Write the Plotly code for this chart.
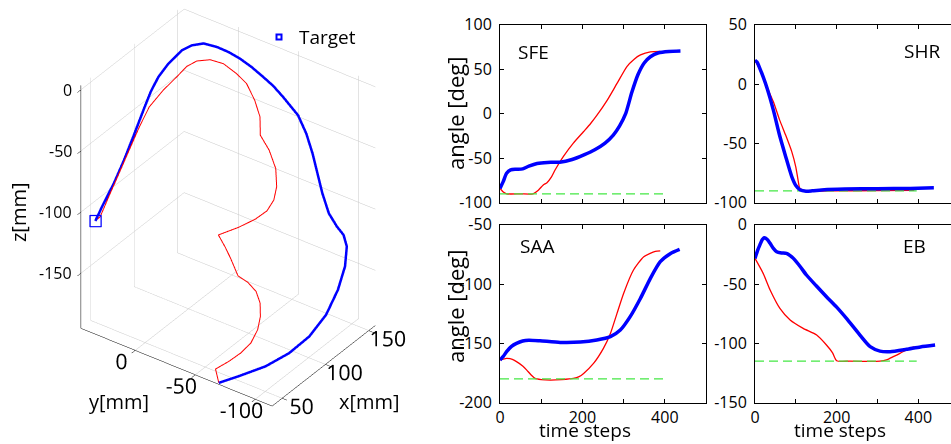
import plotly.graph_objects as go

# ---------------- 3D end-effector trajectories (mm) ----------------
blue_x = [39.6, 49.6, 63.2, 76.6, 89.7, 103.0, 115.4, 125.4, 132.3, 134.5, 134.5, 135.4,
          139.0, 143.2, 147.4, 151.1, 153.5, 153.2, 152.7, 151.5, 150.0, 148.0, 145.5, 142.5,
          138.3, 133.1, 127.5, 118.2, 110.1, 102.5, 95.4, 83.2, 70.9, 59.7, 49.4, 40.8]
blue_y = [-68.8, -78.2, -90.7, -100.7, -108.0, -112.4, -113.3, -112.0, -108.5, -104.2, -98.7, -91.3,
          -83.3, -76.2, -69.1, -61.2, -52.6, -40.3, -32.5, -25.1, -16.5, -8.3, -0.5, 7.0,
          15.1, 21.1, 25.5, 29.9, 32.4, 33.3, 33.2, 32.9, 32.7, 33.1, 34.2, 34.9]
blue_z = [-194.7, -191.0, -185.5, -178.1, -168.8, -156.7, -142.8, -129.7, -118.6, -112.1, -107.5, -100.1,
          -88.9, -77.8, -66.7, -55.6, -45.4, -35.1, -29.0, -24.0, -18.5, -13.8, -10.1, -7.3,
          -5.3, -6.4, -9.2, -16.6, -24.0, -32.3, -40.7, -55.6, -70.4, -83.4, -94.5, -104.4]

red_x = [39.6, 42.6, 50.2, 57.4, 64.5, 71.4, 76.5, 80.5, 82.5, 82.1, 80.2, 82.7, 84.0, 85.1,
         95.4, 104.5, 111.7, 117.8, 123.0, 128.2, 131.3, 132.4, 138.0, 141.0, 142.9, 142.0,
         139.9, 135.9, 130.2, 124.5, 118.5, 107.9, 97.2, 87.2, 75.9, 64.8, 53.5, 44.1, 40.8]
red_y = [-68.8, -63.9, -69.5, -74.1, -77.5, -78.2, -76.8, -73.7, -68.9, -62.5, -55.5, -47.5, -41.9, -35.6,
         -45.0, -52.3, -56.9, -58.2, -56.8, -52.3, -44.6, -36.4, -32.1, -25.5, -17.4, -9.8,
         -0.3, 7.9, 14.9, 19.2, 21.9, 26.8, 30.7, 31.7, 32.1, 32.5, 32.9, 33.2, 34.9]
red_z = [-194.7, -187.0, -182.7, -178.1, -172.5, -165.1, -157.7, -150.2, -143.7, -138.7, -135.0, -125.2, -118.7, -112.2,
         -107.9, -103.4, -98.7, -92.7, -85.2, -75.1, -64.9, -56.5, -46.3, -37.0, -27.7, -22.2,
         -16.6, -14.4, -15.1, -18.1, -23.1, -31.4, -40.7, -51.9, -64.9, -77.8, -90.8, -102.0, -104.4]

target_x = [40.8]
target_y = [34.9]
target_z = [-104.4]

x3_range = [38.5, 157.7]
y3_range = [-114.0, 45.25]
z3_range = [-195.0, 3.5]
x3_ticks = [50, 100, 150]
y3_ticks = [-100, -50, 0]
z3_ticks = [-150, -100, -50, 0]

# ---------------- joint angle time series (deg) ----------------
sfe_blue_t = [0, 8, 16, 26, 40, 55, 70, 90, 115, 145, 175, 205, 230, 255, 275, 290, 305, 320, 335, 350, 365, 385, 410, 438]
sfe_blue = [-84, -76, -67, -63, -62.5, -62, -59, -56, -54.7, -54.5, -51.5, -46, -40.5, -33, -24, -14, 0, 24, 44, 57, 64, 68.5, 70, 70.5]
sfe_red_t = [0, 8, 16, 50, 80, 93, 105, 114, 125, 134, 154, 178, 203, 220, 235, 260, 284, 308, 325, 341, 365, 389]
sfe_red = [-84, -88, -90, -90, -90, -86, -80, -77.5, -71, -63, -48, -33, -20, -11, -2, 15, 34, 53, 61, 66, 69.5, 70]

shr_blue_t = [0, 5, 12, 20, 30, 45, 60, 75, 90, 100, 110, 125, 140, 170, 220, 300, 380, 438]
shr_blue = [20, 18.5, 13, 6, -4, -22, -43, -61, -78, -85.5, -89, -90.3, -90, -89, -88.5, -88.2, -88, -87.5]
shr_red_t = [0, 15, 30, 45, 60, 75, 90, 100, 106, 110, 125, 200, 300, 390]
shr_red = [20, 10, -3, -15, -30, -43, -57, -70, -82, -88, -90, -90, -89.8, -89.5]

saa_blue_t = [0, 8, 16, 28, 40, 55, 70, 97, 146, 195, 235, 268, 292, 316, 341, 365, 389, 414, 436]
saa_blue = [-164, -161, -157, -152.5, -150, -148, -147.3, -147.8, -149.2, -148.9, -147.2, -144.4, -138.8, -127.5, -112, -95.2, -81.2, -74.2, -70.8]
saa_red_t = [0, 16, 30, 40, 55, 65, 75, 85, 100, 122, 150, 178, 192, 203, 227, 251, 268, 284, 300, 324, 349, 377, 389]
saa_red = [-164, -162.6, -163.5, -165.4, -169, -172.5, -176.5, -179.5, -180.5, -180.9, -180.5, -179.5, -178, -175.3, -166.9, -154.2, -141.6, -124.7, -107.9, -88.2, -77, -72.5, -72]

eb_blue_t = [0, 6, 12, 18, 23, 30, 37, 45, 53, 65, 77, 86, 94, 110, 126, 150, 175, 200, 224, 257, 282, 306, 331, 371, 405, 441]
eb_blue = [-28.4, -22, -17, -12.5, -11, -12.5, -15.7, -20, -22.8, -23.8, -24.2, -26, -28.4, -35, -42.4, -51.5, -60.7, -69.5, -79, -93, -102.8, -106.5, -107, -105, -103, -101.4]
eb_red_t = [0, 20, 37, 61, 86, 118, 151, 175, 190, 200, 232, 306, 322, 340, 355, 379, 390]
eb_red = [-28.4, -41, -55, -70.5, -80.3, -87.4, -93, -101.4, -108, -114.6, -115, -115, -114, -111, -108.4, -104, -103]

limit_t = [0, 396]
sfe_limit = [-90, -90]
shr_limit = [-90, -90]
saa_limit = [-180, -180]
eb_limit = [-115, -115]

panel_names = ["SFE", "SHR", "SAA", "EB"]
x_ticks = [0, 100, 200, 300, 400, 500]
x_ticktext = ["0", "", "200", "", "400", ""]

FONT = "Open Sans"
BLUE = "#0000ff"
RED = "#ff0000"
GREEN = "#44e844"


def hyphen_labels(vals):
    return [str(v) for v in vals]


fig = go.Figure()

# ---- 3D scene ----
fig.add_trace(go.Scatter3d(x=red_x, y=red_y, z=red_z, mode="lines",
                           line=dict(color=RED, width=2), showlegend=False, scene="scene"))
fig.add_trace(go.Scatter3d(x=blue_x, y=blue_y, z=blue_z, mode="lines",
                           line=dict(color=BLUE, width=5), showlegend=False, scene="scene"))
fig.add_trace(go.Scatter3d(x=target_x, y=target_y, z=target_z, mode="markers", name="Target",
                           marker=dict(symbol="square-open", size=5, color=BLUE,
                                       line=dict(color=BLUE, width=2)),
                           showlegend=True, scene="scene"))

# ---- 2D panels ----
panels = [
    (sfe_red_t, sfe_red, sfe_blue_t, sfe_blue, sfe_limit, "x", "y"),
    (shr_red_t, shr_red, shr_blue_t, shr_blue, shr_limit, "x2", "y2"),
    (saa_red_t, saa_red, saa_blue_t, saa_blue, saa_limit, "x3", "y3"),
    (eb_red_t, eb_red, eb_blue_t, eb_blue, eb_limit, "x4", "y4"),
]
for rt, rv, bt, bv, lim, xa, ya in panels:
    fig.add_trace(go.Scatter(x=rt, y=rv, mode="lines", line=dict(color=RED, width=1.3, shape="spline", smoothing=0.6),
                             showlegend=False, xaxis=xa, yaxis=ya))
    fig.add_trace(go.Scatter(x=limit_t, y=lim, mode="lines", line=dict(color=GREEN, width=1.2, dash="9px,5px"),
                             showlegend=False, xaxis=xa, yaxis=ya))
    fig.add_trace(go.Scatter(x=bt, y=bv, mode="lines", line=dict(color=BLUE, width=3.5, shape="spline", smoothing=0.6),
                             showlegend=False, xaxis=xa, yaxis=ya))

W, H = 951, 444
colL = [500 / W, 706 / W]
colR = [755 / W, 1.0]
rowT = [1 - 202.7 / H, 1 - 24.7 / H]
rowB = [1 - 402.7 / H, 1 - 224.7 / H]


def xax(domain, anchor, rng, labels, mirror):
    return dict(domain=domain, anchor=anchor, range=rng, tickvals=x_ticks, ticktext=x_ticktext,
                showticklabels=labels, ticks="inside", ticklen=4, tickcolor="black",
                showline=True, linecolor="black", linewidth=1, mirror=mirror, automargin=False,
                showgrid=False, zeroline=False, tickfont=dict(family=FONT, size=16, color="black"))


def yax(domain, anchor, rng, mirror):
    vals = list(range(int(rng[0]), int(rng[1]) + 1, 50))
    return dict(domain=domain, anchor=anchor, range=rng, tickvals=vals, ticktext=hyphen_labels(vals),
                ticks="inside", ticklen=4, tickcolor="black", automargin=False,
                showline=True, linecolor="black", linewidth=1, mirror=mirror,
                showgrid=False, zeroline=False, ticklabelstandoff=4,
                tickfont=dict(family=FONT, size=16, color="black"))


axis3 = dict(showbackground=False, gridcolor="#c8c8c8", gridwidth=1, showline=True, linecolor="black",
             linewidth=1, ticks="outside", ticklen=6, tickcolor="black", zeroline=False, showspikes=False,
             tickangle=0, title=dict(text=""), tickfont=dict(family=FONT, size=16, color="black"))

# orthographic view: scale set through the aspect ratio, view shifted up via camera centre
zoom3d = 1.324
eye_dir = (-0.668, -0.482, 0.562)
up_dir = (0.461, 0.321, 0.824)
shift = 0.0748
cen = tuple(-shift * u for u in up_dir)
zspan = z3_range[1] - z3_range[0]

# z tick labels placed beside the vertical axis edge (x = xmin, y = ymax), MATLAB style
z_labels = [dict(x=x3_range[0], y=y3_range[1], z=v, text=t, showarrow=False,
                 xanchor="right", yanchor="middle", xshift=-7,
                 font=dict(family=FONT, size=16, color="black"))
            for v, t in zip(z3_ticks, hyphen_labels(z3_ticks))]

fig.update_layout(
    width=W, height=H, margin=dict(l=0, r=0, t=0, b=0, autoexpand=False),
    paper_bgcolor="white", plot_bgcolor="white",
    font=dict(family=FONT, color="black"),
    xaxis=xax(colL, "y", [0, 500], False, "ticks"),
    yaxis=yax(rowT, "x", [-100, 100], "ticks"),
    xaxis2=xax(colR, "y2", [0, 480], False, "ticks"),
    yaxis2=yax(rowT, "x2", [-100, 50], False),
    xaxis3=xax(colL, "y3", [0, 500], True, "ticks"),
    yaxis3=yax(rowB, "x3", [-200, -50], "ticks"),
    xaxis4=xax(colR, "y4", [0, 480], True, "ticks"),
    yaxis4=yax(rowB, "x4", [-150, 0], False),
    scene=dict(
        domain=dict(x=[0, 456 / W], y=[0.0, 1.0]),
        aspectmode="manual",
        aspectratio=dict(x=zoom3d * (x3_range[1] - x3_range[0]) / zspan,
                         y=zoom3d * (y3_range[1] - y3_range[0]) / zspan,
                         z=zoom3d),
        camera=dict(projection=dict(type="orthographic"),
                    eye=dict(x=cen[0] + eye_dir[0] * 2, y=cen[1] + eye_dir[1] * 2, z=cen[2] + eye_dir[2] * 2),
                    up=dict(x=0, y=0, z=1), center=dict(x=cen[0], y=cen[1], z=cen[2])),
        xaxis=dict(axis3, range=x3_range, tickvals=x3_ticks, ticktext=hyphen_labels(x3_ticks)),
        yaxis=dict(axis3, range=y3_range, tickvals=y3_ticks, ticktext=hyphen_labels(y3_ticks)),
        zaxis=dict(axis3, range=z3_range, tickvals=z3_ticks, showticklabels=False),
        annotations=z_labels,
    ),
    legend=dict(x=259 / W, y=0.959, xanchor="left", yanchor="top", bgcolor="rgba(0,0,0,0)",
                font=dict(family=FONT, size=19, color="black"), itemwidth=30),
)

ann = []


def add_text(text, x, y, size, angle=0, xanchor="center"):
    ann.append(dict(text=text, x=x / W, y=1 - y / H, xref="paper", yref="paper", showarrow=False,
                    font=dict(family=FONT, size=size, color="black"), textangle=angle,
                    xanchor=xanchor, yanchor="middle"))


add_text("x[mm]", 369, 401, 20)
add_text("y[mm]", 119, 401, 20)
add_text("z[mm]", 18, 212, 20, angle=-90)
add_text("angle [deg]", 455, 114, 22, angle=-90)
add_text("angle [deg]", 455, 307, 22, angle=-90)
add_text("time steps", 585, 430, 19)
add_text("time steps", 840, 430, 19)
add_text(panel_names[0], 533, 52, 19)
add_text(panel_names[1], 922, 51, 19)
add_text(panel_names[2], 537, 246, 19)
add_text(panel_names[3], 914, 246, 19)
fig.update_layout(annotations=ann)

fig.write_html("out.html", config={"displayModeBar": False},
               post_script="document.body.style.margin='0px';document.body.style.overflow='hidden';")
